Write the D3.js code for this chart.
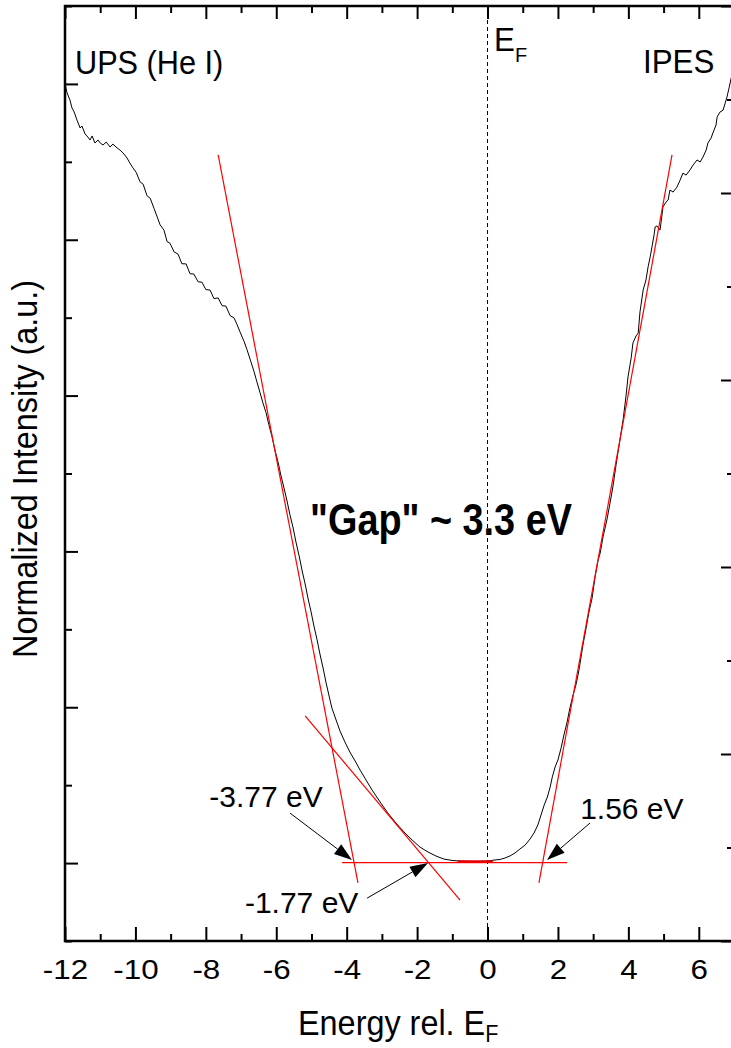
<!DOCTYPE html>
<html><head><meta charset="utf-8">
<script src="https://cdn.jsdelivr.net/npm/d3@7"></script>
<style>body{margin:0;background:#fff} svg{display:block}</style>
</head><body>
<svg id="c" width="731" height="1048"></svg>
<script>
// ---- data (energy in eV rel. E_F, normalized intensity in left-axis units) ----
const upsEnergy = [-12.00,-11.95,-11.86,-11.80,-11.74,-11.66,-11.57,-11.52,-11.43,-11.35,
 -11.29,-11.23,-11.15,-11.06,-11.00,-10.92,-10.83,-10.72,-10.64,-10.52,
 -10.44,-10.35,-10.24,-10.16,-10.07,-9.98,-9.87,-9.78,-9.67,-9.58,
 -9.47,-9.39,-9.30,-9.19,-9.10,-9.02,-8.90,-8.79,-8.68,-8.56,
 -8.45,-8.34,-8.22,-8.11,-8.00,-7.88,-7.77,-7.65,-7.54,-7.43,
 -7.31,-7.20,-7.11,-7.03,-6.91,-6.83,-6.72,-6.63,-6.55,-6.46,
 -6.38,-6.29,-6.21,-6.12,-6.04,-5.95,-5.87,-5.78,-5.70,-5.61,
 -5.52,-5.44,-5.35,-5.27,-5.18,-5.10,-5.01,-4.93,-4.84,-4.76,
 -4.67,-4.59,-4.50,-4.42,-4.30,-4.19,-4.05,-3.91,-3.76,-3.62,
 -3.45,-3.28,-3.05,-2.83,-2.60,-2.37,-2.14,-1.92,-1.69,-1.46,
 -1.24,-1.01,-0.78,-0.50,-0.21,0.00];
const upsIntensity = [5.006,4.948,4.897,4.845,4.820,4.768,4.717,4.730,4.679,4.659,
 4.640,4.666,4.621,4.640,4.621,4.608,4.627,4.595,4.614,4.589,
 4.576,4.557,4.525,4.493,4.461,4.433,4.372,4.356,4.282,4.266,
 4.200,4.152,4.096,4.062,3.988,3.978,3.922,3.908,3.846,3.845,
 3.782,3.780,3.730,3.728,3.680,3.677,3.622,3.627,3.577,3.574,
 3.513,3.499,3.454,3.409,3.345,3.294,3.217,3.153,3.088,3.018,
 2.954,2.890,2.813,2.736,2.653,2.574,2.490,2.407,2.330,2.234,
 2.150,2.060,1.971,1.881,1.791,1.701,1.611,1.521,1.432,1.342,
 1.252,1.162,1.072,0.995,0.918,0.848,0.777,0.713,0.655,0.597,
 0.533,0.469,0.392,0.321,0.257,0.199,0.148,0.103,0.071,0.045,
 0.026,0.017,0.013,0.010,0.010,0.013];
const ipesEnergy = [0.21,0.36,0.50,0.64,0.78,0.92,1.07,1.21,1.32,1.43,
 1.52,1.61,1.70,1.78,1.84,1.92,2.00,2.09,2.17,2.26,
 2.34,2.43,2.51,2.57,2.63,2.71,2.80,2.88,2.97,3.05,
 3.14,3.20,3.28,3.39,3.48,3.56,3.65,3.76,3.85,3.93,
 3.99,4.08,4.13,4.22,4.28,4.33,4.42,4.50,4.56,4.62,
 4.67,4.73,4.76,4.81,4.90,4.96,4.98,5.07,5.13,5.18,
 5.27,5.38,5.47,5.55,5.64,5.75,5.84,5.95,6.04,6.12,
 6.21,6.26,6.35,6.40,6.49,6.52,6.60,6.69,6.75,6.80,
 6.86,6.92,7.00];
const ipesIntensity = [0.020,0.023,0.033,0.046,0.065,0.090,0.116,0.155,0.193,0.245,
 0.309,0.373,0.424,0.489,0.553,0.617,0.662,0.739,0.822,0.905,
 0.995,1.079,1.143,1.207,1.284,1.400,1.509,1.611,1.701,1.830,
 1.945,1.990,2.093,2.202,2.311,2.414,2.555,2.715,2.844,2.991,
 3.120,3.242,3.338,3.383,3.402,3.537,3.678,3.742,3.826,3.890,
 3.954,4.031,4.082,4.089,4.063,4.166,4.210,4.242,4.255,4.319,
 4.306,4.338,4.383,4.428,4.415,4.448,4.480,4.512,4.499,4.531,
 4.576,4.621,4.653,4.685,4.736,4.787,4.819,4.832,4.877,4.916,
 4.974,5.038,5.090];

// tangent (onset) lines: [[E1, I1], [E2, I2]]
const fitUpsSteep = [[-7.65, 4.544], [-3.68, -0.127]];
const fitUpsTail  = [[-5.18, 0.944], [-0.78, -0.237]];
const fitBaseline = [[-4.13, 0.003], [2.26, 0.003]];
const fitIpes     = [[1.46, -0.127], [5.24, 4.544]];
const fitFlatData = [[-0.85, 0.012], [0.15, 0.012]];

// annotations: label, text anchor point (E, I), arrow start, arrow tip
const annotLabels = ["-3.77 eV", "-1.77 eV", "1.56 eV"];
const annotTextPos = [[-7.90, 0.36], [-6.89, -0.32], [2.63, 0.283]];
const annotArrowFrom = [[-5.61, 0.321], [-3.42, -0.225], [2.91, 0.257]];
const annotArrowTo = [[-3.85, 0.020], [-1.69, 0.001], [1.69, 0.020]];

const xMajor = [-12,-10,-8,-6,-4,-2,0,2,4,6];
const xMinor = [-11,-9,-7,-5,-3,-1,1,3,5,7];
const yLeftMajor = [0,1,2,3,4,5];
const yLeftMinor = [-0.5,0.5,1.5,2.5,3.5,4.5,5.5];
const yRightMajor = [0,1,2,3,4,5];
const yRightMinor = [0.5,1.5,2.5,3.5,4.5];

// ---- drawing ----
const FONT = "'Liberation Sans', Arial, Helvetica, sans-serif";
const svg = d3.select('#c');
const x = d3.scaleLinear().domain([-12, 7]).range([65, 734]);
const yL = d3.scaleLinear().domain([-0.5, 5.5]).range([941, 6]);
const yR = d3.scaleLinear().domain([0, 5]).range([941, 6]);

function axisG(axis, tx, ty) {
  const g = svg.append('g').attr('transform', `translate(${tx},${ty})`).call(axis);
  g.select('.domain').remove();
  g.selectAll('.tick line').attr('stroke', '#000').attr('stroke-width', 2);
  return g;
}
const fmt = d => String(d);
const bx = axisG(d3.axisBottom(x).tickValues(xMajor).tickSize(-14).tickPadding(18).tickFormat(fmt), 0, 941);
bx.selectAll('.tick text').attr('font-family', FONT).attr('font-size', 28).attr('fill', '#000')
  .attr('transform', 'scale(1.12,1)');
axisG(d3.axisBottom(x).tickValues(xMinor).tickSize(-7).tickFormat(''), 0, 941);
axisG(d3.axisTop(x).tickValues(xMajor).tickSize(-13).tickFormat(''), 0, 6);
axisG(d3.axisTop(x).tickValues(xMinor).tickSize(-7).tickFormat(''), 0, 6);
axisG(d3.axisLeft(yL).tickValues(yLeftMajor).tickSize(-13).tickFormat(''), 65, 0);
axisG(d3.axisLeft(yL).tickValues(yLeftMinor).tickSize(-7).tickFormat(''), 65, 0);
axisG(d3.axisRight(yR).tickValues(yRightMajor).tickSize(-13).tickFormat(''), 734, 0);
axisG(d3.axisRight(yR).tickValues(yRightMinor).tickSize(-7).tickFormat(''), 734, 0);

// frame
svg.append('rect').attr('x', x(-12)).attr('y', yL(5.5))
  .attr('width', x(7) - x(-12)).attr('height', yL(-0.5) - yL(5.5))
  .attr('fill', 'none').attr('stroke', '#000').attr('stroke-width', 2.5);

// E_F dashed line
svg.append('line').attr('x1', x(0)).attr('x2', x(0)).attr('y1', yL(5.5)).attr('y2', yL(-0.5))
  .attr('stroke', '#000').attr('stroke-width', 1).attr('stroke-dasharray', '4,3');

// spectrum
const line = d3.line().x(d => x(d[0])).y(d => yL(d[1]));
const spectrum = upsEnergy.map((e, i) => [e, upsIntensity[i]])
  .concat(ipesEnergy.map((e, i) => [e, ipesIntensity[i]]));
svg.append('path').datum(spectrum).attr('d', line)
  .attr('fill', 'none').attr('stroke', '#000').attr('stroke-width', 1).attr('stroke-linejoin', 'round');

// fit lines
[fitUpsSteep, fitUpsTail, fitBaseline, fitIpes].forEach(f => {
  svg.append('path').datum(f).attr('d', line).attr('fill', 'none')
    .attr('stroke', '#ff0000').attr('stroke-width', 1.2);
});
svg.append('path').datum(fitFlatData).attr('d', line).attr('fill', 'none')
  .attr('stroke', '#e00000').attr('stroke-width', 2);

// text helper
function label(px, py, parts, size, opts = {}) {
  const sx = opts.sx || 1;
  const g = svg.append('g').attr('transform', `translate(${px},${py})${opts.rotate ? ` rotate(${opts.rotate})` : ''} scale(${sx},1)`);
  const t = g.append('text').attr('font-family', FONT).attr('font-size', size)
    .attr('font-weight', opts.bold ? 'bold' : 'normal').attr('fill', '#000')
    .attr('text-anchor', opts.anchor || 'start');
  parts.forEach(p => {
    const ts = t.append('tspan').text(p.t);
    if (p.size) ts.attr('font-size', p.size);
    if (p.dy) ts.attr('dy', p.dy);
  });
  return t;
}

label(75, 74, [{t: 'UPS (He I)'}], 33, {sx: 0.93});
label(643, 73, [{t: 'IPES'}], 33, {sx: 0.95});
label(494, 51, [{t: 'E'}, {t: 'F', size: 21, dy: 11}], 33, {sx: 0.95});
label(441, 535, [{t: '"Gap" ~ 3.3 eV'}], 44, {sx: 0.86, bold: true, anchor: 'middle'});
label(298, 1035, [{t: 'Energy rel. E'}, {t: 'F', size: 24, dy: 7}], 36, {sx: 0.9});
label(37, 469, [{t: 'Normalized Intensity (a.u.)'}], 36, {sx: 0.9, rotate: -90, anchor: 'middle'});

// annotations
annotLabels.forEach((s, i) => {
  label(x(annotTextPos[i][0]), yL(annotTextPos[i][1]), [{t: s}], 30);
  const x1 = x(annotArrowFrom[i][0]), y1 = yL(annotArrowFrom[i][1]);
  const x2 = x(annotArrowTo[i][0]), y2 = yL(annotArrowTo[i][1]);
  const dx = x2 - x1, dy = y2 - y1, len = Math.hypot(dx, dy);
  const ux = dx / len, uy = dy / len;
  const hl = 18, hw = 6;
  const bxp = x2 - ux * hl, byp = y2 - uy * hl;
  svg.append('line').attr('x1', x1).attr('y1', y1).attr('x2', bxp).attr('y2', byp)
    .attr('stroke', '#000').attr('stroke-width', 1);
  svg.append('path')
    .attr('d', `M${x2},${y2}L${bxp - uy * hw},${byp + ux * hw}L${bxp + uy * hw},${byp - ux * hw}Z`)
    .attr('fill', '#000');
});
</script>
</body></html>
